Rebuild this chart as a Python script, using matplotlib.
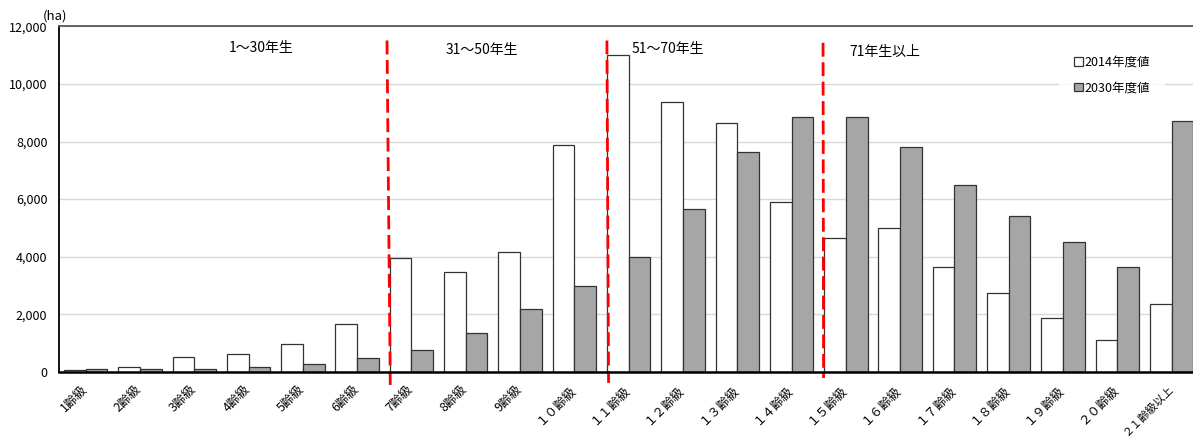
import numpy as np
import matplotlib.pyplot as plt
from matplotlib.patches import Patch
from matplotlib.ticker import FuncFormatter
import matplotlib.transforms as mtransforms

plt.rcParams['font.family'] = ['Noto Sans CJK JP', 'DejaVu Sans']

# age classes (10-21 use full-width digits as in the source)
classes = ['1齢級', '2齢級', '3齢級', '4齢級', '5齢級', '6齢級', '7齢級', '8齢級', '9齢級',
           '１０齢級', '１１齢級', '１２齢級', '１３齢級', '１４齢級', '１５齢級', '１６齢級',
           '１７齢級', '１８齢級', '１９齢級', '２０齢級', '２１齢級以上']
area_2014 = [60, 170, 500, 600, 960, 1670, 3940, 3480, 4160, 7880, 11000,
             9360, 8650, 5900, 4640, 5010, 3630, 2730, 1860, 1100, 2340]
area_2030 = [80, 80, 90, 150, 280, 460, 740, 1330, 2180, 2990, 3990,
             5670, 7620, 8850, 8840, 7800, 6480, 5400, 4510, 3650, 8710]
group_names = ['1〜30年生', '31〜50年生', '51〜70年生', '71年生以上']
series_names = ['2014年度値', '2030年度値']

W, H = 1193, 437
fig = plt.figure(figsize=(W / 100, H / 100), dpi=100)
# axes runs a little past the right edge like the source image
ax = fig.add_axes([58.5 / W, 65.3 / H, 1140.3 / W, 345.3 / H])

x = np.arange(len(classes))
bw = 0.4
ax.bar(x - bw / 2, area_2014, bw, color='white', edgecolor='#333333', linewidth=0.9, zorder=3)
ax.bar(x + bw / 2, area_2030, bw, color='#a6a6a6', edgecolor='#333333', linewidth=0.9, zorder=3)

ax.set_xlim(-0.5, len(classes) - 0.5)
ax.set_ylim(0, 12000)
ax.set_yticks(np.arange(0, 12001, 2000))
ax.yaxis.set_major_formatter(FuncFormatter(lambda v, p: f'{int(v):,}'))
ax.grid(axis='y', color='#d9d9d9', linewidth=1.0, zorder=0)
ax.set_axisbelow(True)

ax.set_xticks(x)
ax.tick_params(axis='x', length=0, pad=8)
ax.tick_params(axis='y', length=0, pad=8, labelsize=9)
ax.set_xticklabels(classes, rotation=45, ha='right', fontsize=9)
off = mtransforms.ScaledTranslation(4 / 100, 0, fig.dpi_scale_trans)
for lab in ax.get_xticklabels():
    lab.set_transform(lab.get_transform() + off)
# the long last label has to fit above the bottom edge
ax.get_xticklabels()[-1].set_fontsize(8)

ax.spines['top'].set_color('#595959')
ax.spines['top'].set_linewidth(1.3)
ax.spines['left'].set_color('black')
ax.spines['left'].set_linewidth(1.3)
ax.spines['bottom'].set_color('black')
ax.spines['bottom'].set_linewidth(1.8)
ax.spines['right'].set_visible(False)
for s in ax.spines.values():
    s.set_zorder(10)

fig.text(43 / W, 1 - 16 / H, '(ha)', fontsize=9.5, va='center', ha='left')

# red dashed separators between age groups
seps = [(5.55, 5.61, 11510, -460), (9.60, 9.63, 11510, -390), (13.58, 13.59, 11430, -220)]
for x0, x1, yt, yb in seps:
    ax.plot([x0, x1], [yt, yb], color='red', linestyle=(0, (5, 2)), linewidth=2,
            clip_on=False, zorder=6)

gx = [3.23, 7.30, 10.72, 14.71]
gy = [11260, 11190, 11220, 11130]
for name, xx, yy in zip(group_names, gx, gy):
    ax.text(xx, yy, name, fontsize=10, ha='center', va='center')

handles = [Patch(facecolor='white', edgecolor='#333333', linewidth=0.9),
           Patch(facecolor='#a6a6a6', edgecolor='#333333', linewidth=0.9)]
leg = ax.legend(handles, series_names, loc='center', bbox_to_anchor=(1112 / W, 1 - 75 / H),
                bbox_transform=fig.transFigure, fontsize=9, handlelength=0.7, handleheight=0.7,
                handletextpad=0.15, labelspacing=1.0, borderpad=1.2, frameon=True,
                fancybox=False)
leg.get_frame().set_facecolor('white')
leg.get_frame().set_edgecolor('none')
leg.set_zorder(8)

fig.savefig('out.png', dpi=100)
